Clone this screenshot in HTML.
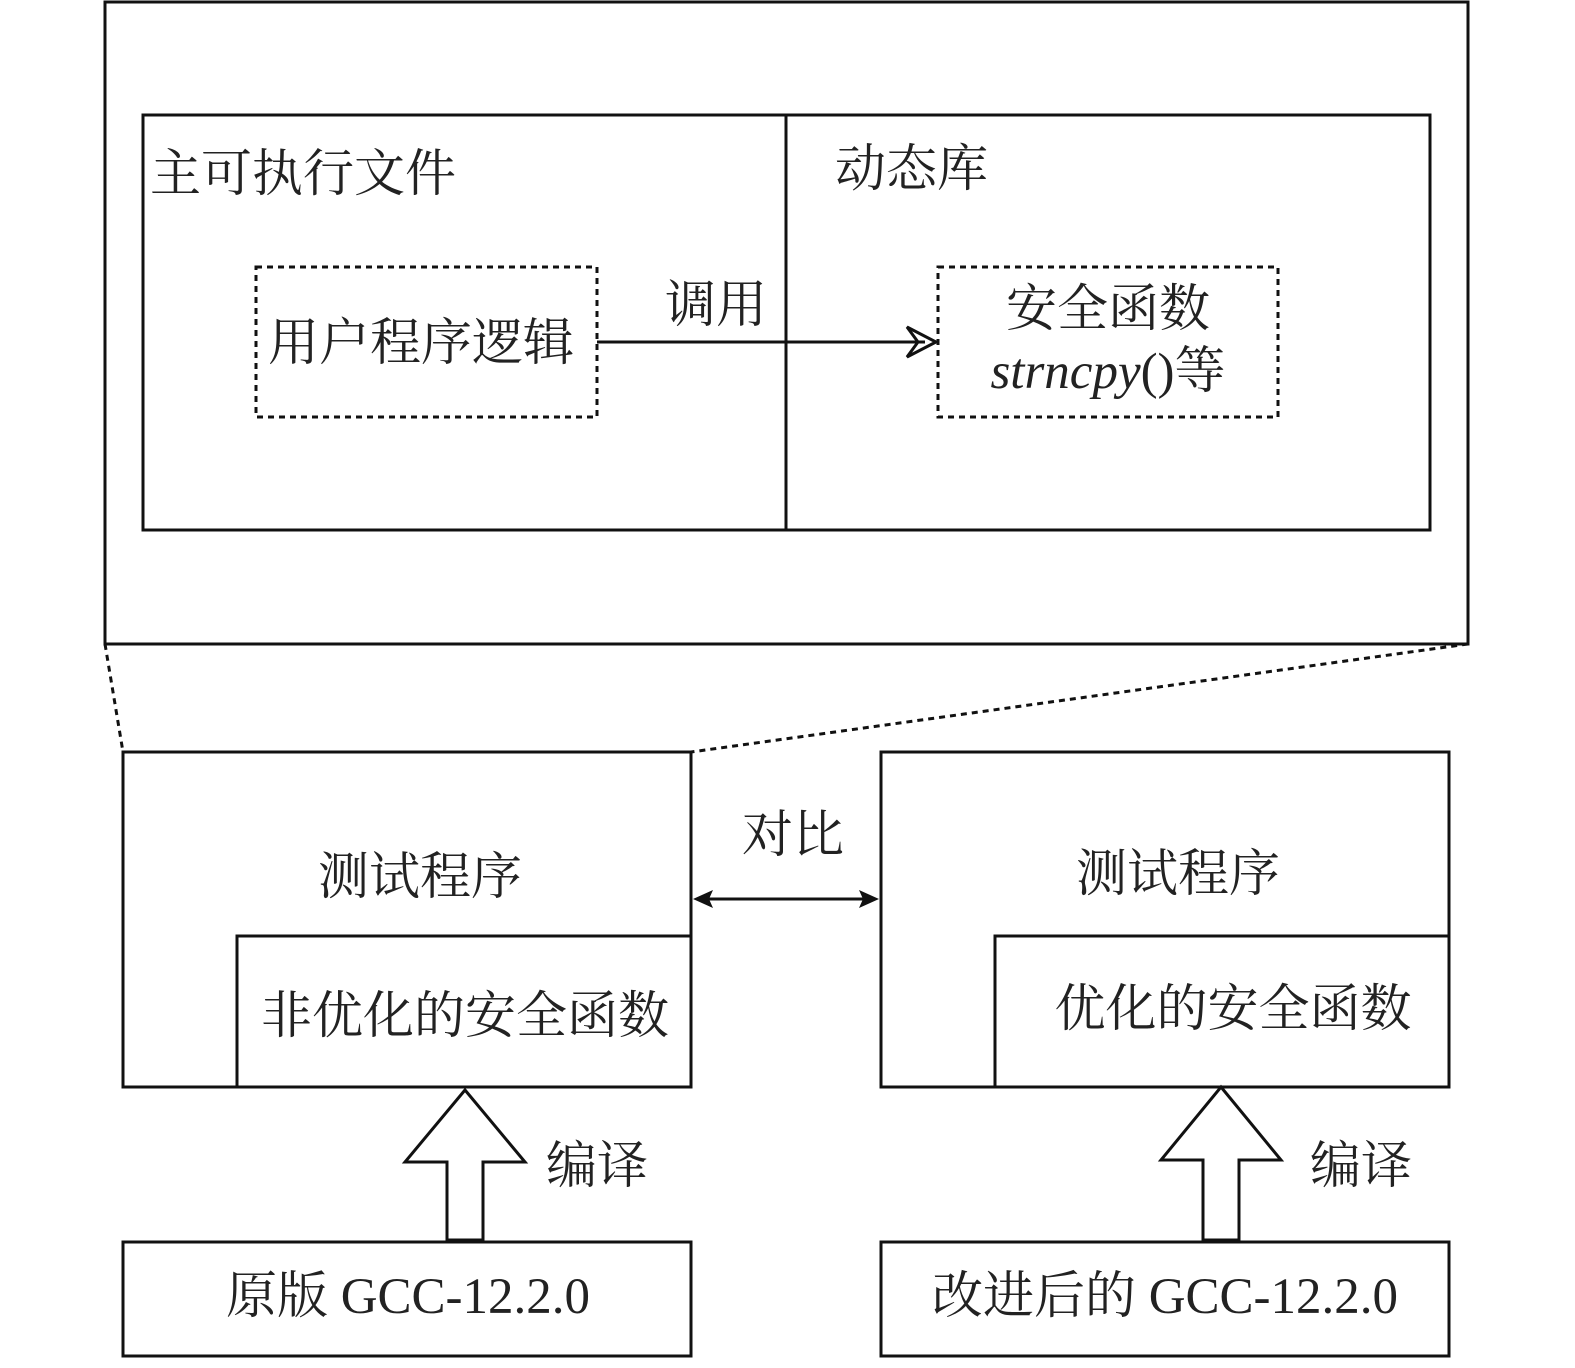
<!DOCTYPE html>
<html><head><meta charset="utf-8"><style>
html,body{margin:0;padding:0;background:#fff}
svg text{font-family:"Liberation Serif","Noto Serif CJK SC",serif;font-size:51px;fill:#222}
</style></head><body>
<svg width="1575" height="1363" viewBox="0 0 1575 1363" xmlns="http://www.w3.org/2000/svg">
<g fill="none" stroke="#111" stroke-width="3">
<rect x="105" y="2" width="1363" height="642"/>
<rect x="143" y="115" width="1287" height="415"/>
<line x1="786" y1="115" x2="786" y2="530"/>
<rect x="256" y="267" width="341" height="150" stroke-dasharray="6,5"/>
<rect x="938" y="267" width="340" height="150" stroke-dasharray="6,5"/>
<line x1="597" y1="342" x2="925" y2="342"/>
<path d="M907,327 L936,342 L907,357 L918,342 Z" stroke-linejoin="miter"/>
<line x1="105" y1="644" x2="123" y2="752" stroke-dasharray="6,5"/>
<line x1="1468" y1="644" x2="691" y2="752" stroke-dasharray="6,5"/>
<rect x="123" y="752" width="568" height="335"/>
<rect x="237" y="936" width="454" height="151"/>
<rect x="881" y="752" width="568" height="335"/>
<rect x="995" y="936" width="454" height="151"/>
<line x1="705" y1="899" x2="867" y2="899"/>
<rect x="123" y="1242" width="568" height="114"/>
<rect x="881" y="1242" width="568" height="114"/>
<path d="M465,1090 L525,1162 L483,1162 L483,1240 L447,1240 L447,1162 L405,1162 Z"/>
<path d="M1221,1087 L1281,1160 L1239,1160 L1239,1240 L1203,1240 L1203,1160 L1161,1160 Z"/>
</g>
<path d="M693,899 L713,890 L709,899 L713,908 Z" fill="#111"/>
<path d="M879,899 L859,890 L863,899 L859,908 Z" fill="#111"/>
<text x="150" y="191">主可执行文件</text>
<text x="835" y="186">动态库</text>
<text x="268" y="360">用户程序逻辑</text>
<text x="665" y="322">调用</text>
<text x="1108" y="326" text-anchor="middle">安全函数</text>
<text x="1108" y="388" text-anchor="middle"><tspan font-style="italic">strncpy</tspan>()等</text>
<text x="420" y="894" text-anchor="middle">测试程序</text>
<text x="465" y="1033" text-anchor="middle">非优化的安全函数</text>
<text x="1178" y="891" text-anchor="middle">测试程序</text>
<text x="1233" y="1026" text-anchor="middle">优化的安全函数</text>
<text x="793" y="852" text-anchor="middle">对比</text>
<text x="546" y="1183">编译</text>
<text x="1310" y="1183">编译</text>
<text x="408" y="1313" text-anchor="middle">原版 GCC-12.2.0</text>
<text x="1165" y="1313" text-anchor="middle">改进后的 GCC-12.2.0</text>
</svg>
</body></html>
